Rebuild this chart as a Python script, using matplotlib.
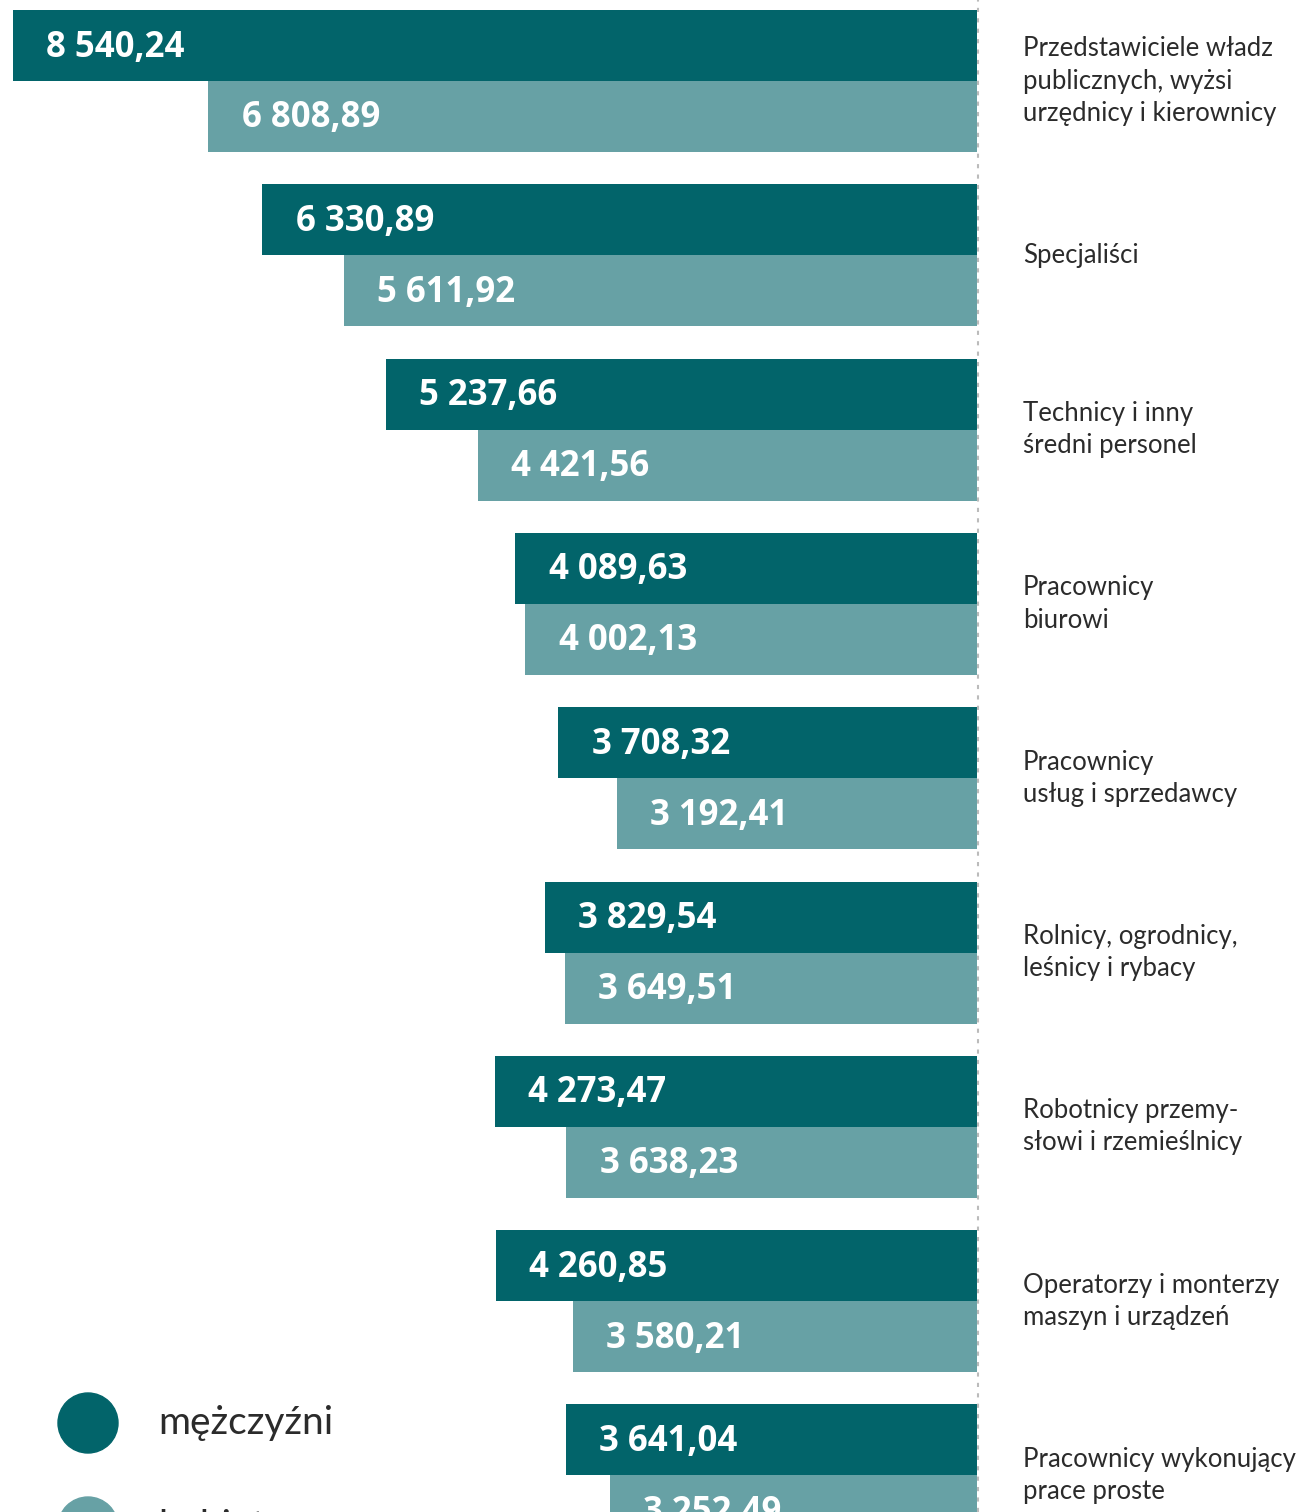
import matplotlib.pyplot as plt
from matplotlib.patches import Ellipse

# dane: przeciętne wynagrodzenie wg grup zawodów
kategorie = [
    "Przedstawiciele władz\npublicznych, wyżsi\nurzędnicy i kierownicy",
    "Specjaliści",
    "Technicy i inny\nśredni personel",
    "Pracownicy\nbiurowi",
    "Pracownicy\nusług i sprzedawcy",
    "Rolnicy, ogrodnicy,\nleśnicy i rybacy",
    "Robotnicy przemy-\nsłowi i rzemieślnicy",
    "Operatorzy i monterzy\nmaszyn i urządzeń",
    "Pracownicy wykonujący\nprace proste",
]
mezczyzni = [8540.24, 6330.89, 5237.66, 4089.63, 3708.32, 3829.54, 4273.47, 4260.85, 3641.04]
kobiety = [6808.89, 5611.92, 4421.56, 4002.13, 3192.41, 3649.51, 3638.23, 3580.21, 3252.49]
legenda = ["mężczyźni", "kobiety"]

ciemny = "#02646a"
jasny = "#67a1a5"

W, H = 1298, 1512
fig = plt.figure(figsize=(W / 100, H / 100), dpi=100)
ax = fig.add_axes([0, 0, 977 / W, 1])
ax.set_xlim(8655, 0)
ax.set_ylim(H, 0)
ax.axis("off")

def fmt(v):
    s = f"{v:,.2f}"
    return s.replace(",", " ").replace(".", ",")

krok = 174.3
h = 71
for i, (m, k) in enumerate(zip(mezczyzni, kobiety)):
    c = 81 + krok * i
    ax.barh(c - h / 2, m, height=h, color=ciemny, linewidth=0)
    ax.barh(c + h / 2, k, height=h, color=jasny, linewidth=0)
    ax.text(m - 295, c - h / 2 + 2, fmt(m), color="white", fontsize=25, fontweight="bold",
            family="Open Sans", ha="left", va="center")
    ax.text(k - 295, c + h / 2 + 2, fmt(k), color="white", fontsize=25, fontweight="bold",
            family="Open Sans", ha="left", va="center")
    fig.text(1023 / W, 1 - c / H, kategorie[i], color="#2b2b2b", fontsize=18.5,
             family="Lato", ha="left", va="center", linespacing=1.36)

# kropkowana linia osi zero
fig.add_artist(plt.Line2D([978 / W, 978 / W], [0, 1], color="#bbbbbb", lw=1.5,
                          linestyle=(0, (2, 3))))

# legenda
for j, (lab, col) in enumerate(zip(legenda, [ciemny, jasny])):
    yc = 1423 + 104 * j
    fig.add_artist(Ellipse((88 / W, 1 - yc / H), 60 / W, 60 / H, color=col,
                           transform=fig.transFigure))
    fig.text(158 / W, 1 - yc / H, lab, color="#2b2b2b", fontsize=28, family="Lato",
             ha="left", va="center")

fig.savefig("out.png", dpi=100)
